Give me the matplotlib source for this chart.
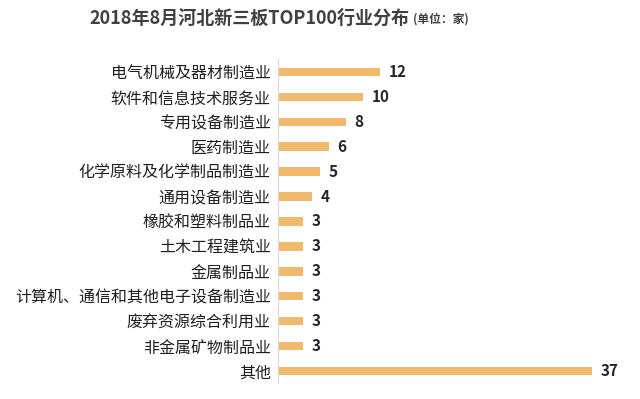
import matplotlib
matplotlib.use("Agg")
import matplotlib.pyplot as plt

plt.rcParams['font.family'] = ['Noto Sans CJK SC', 'DejaVu Sans']

# 行业分布数据
industries = ["电气机械及器材制造业", "软件和信息技术服务业", "专用设备制造业", "医药制造业",
              "化学原料及化学制品制造业", "通用设备制造业", "橡胶和塑料制品业", "土木工程建筑业",
              "金属制品业", "计算机、通信和其他电子设备制造业", "废弃资源综合利用业",
              "非金属矿物制品业", "其他"]
counts = [12, 10, 8, 6, 5, 4, 3, 3, 3, 3, 3, 3, 37]

fig = plt.figure(figsize=(6.4, 3.99), dpi=100)
ax = fig.add_axes([0.434, 0.039, 0.566, 0.812])

y = list(range(len(industries)))
ax.barh(y, counts, height=0.34, color="#F0B96B")
ax.set_ylim(len(industries) - 0.5, -0.5)
ax.set_xlim(0, 42.6)
ax.set_yticks(y)
ax.set_yticklabels(industries, fontsize=11.5, color="#1F1F1F")
ax.tick_params(axis='y', length=0, pad=5)
ax.set_xticks([])
for s in ["top", "right", "bottom"]:
    ax.spines[s].set_visible(False)
ax.spines["left"].set_color("#D9D9D9")

for yi, c in zip(y, counts):
    ax.text(c + 1.0, yi, str(c), va="center", ha="left", fontsize=11,
            fontweight="bold", color="#262626")

fig.text(0.14, 0.955, "2018年8月河北新三板TOP100行业分布", fontsize=13,
         fontweight="bold", color="#404040", ha="left", va="center")
fig.text(0.646, 0.952, "(单位：家)", fontsize=8.5, fontweight="bold",
         color="#404040", ha="left", va="center")

fig.savefig("out.png", dpi=100)
